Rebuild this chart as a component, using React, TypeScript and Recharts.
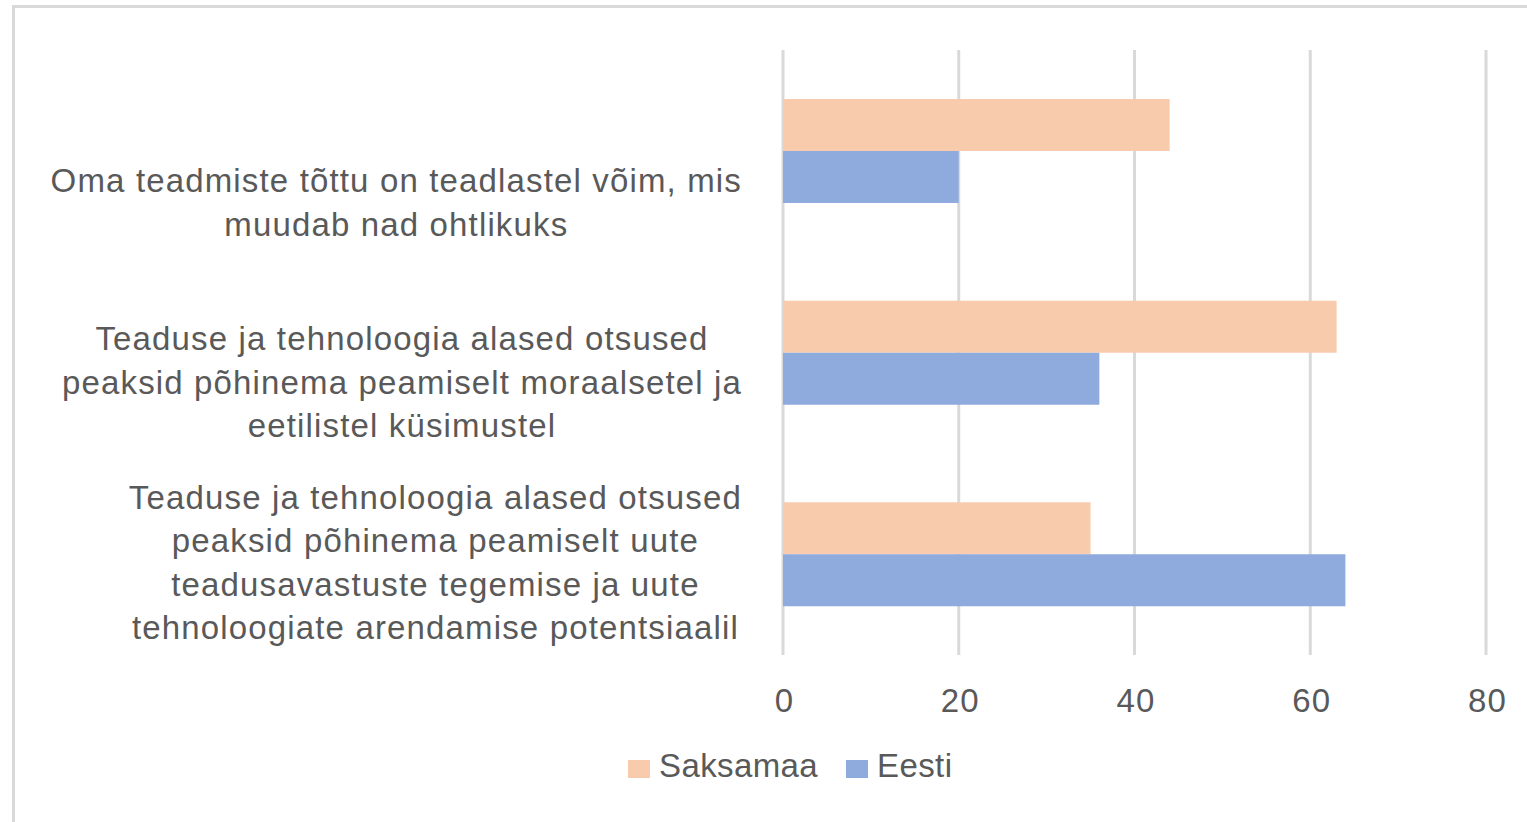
import { BarChart, Bar, XAxis, YAxis, CartesianGrid } from 'recharts'

const categoryLines: string[][] = [
  ['Oma teadmiste tõttu on teadlastel võim, mis', 'muudab nad ohtlikuks'],
  [
    'Teaduse ja tehnoloogia alased otsused',
    'peaksid põhinema peamiselt moraalsetel ja',
    'eetilistel küsimustel',
  ],
  [
    'Teaduse ja tehnoloogia alased otsused',
    'peaksid põhinema peamiselt uute',
    'teadusavastuste tegemise ja uute',
    'tehnoloogiate arendamise potentsiaalil',
  ],
]
const saksamaa = [44, 63, 35]
const eesti = [20, 36, 64]
const xTicks = [0, 20, 40, 60, 80]
const seriesNames = ['Saksamaa', 'Eesti']

const data = categoryLines.map((lines, i) => ({
  name: lines.join(' '),
  saksamaa: saksamaa[i],
  eesti: eesti[i],
}))

const W = 1527
const H = 822
const FONT = '"Liberation Sans", Arial, sans-serif'
const FONT_SIZE = 33
const LETTER = 1.15
const TEXT = '#595959'
const GRID = '#d9d9d9'
const PEACH = '#F8CBAD'
const BLUE = '#8FAADC'

const margin = { top: 50, right: 41, bottom: 107, left: 0 }
const X_AXIS_H = 60
const Y_AXIS_W = 783
const plotH = H - margin.top - margin.bottom - X_AXIS_H
const band = plotH / categoryLines.length
const LINE_H = 43.5

let ctx: CanvasRenderingContext2D | null = null
function textWidth(s: string): number {
  if (!ctx) ctx = document.createElement('canvas').getContext('2d')
  if (!ctx) return s.length * FONT_SIZE * 0.5
  ctx.font = `${FONT_SIZE}px ${FONT}`
  ;(ctx as any).letterSpacing = `${LETTER}px`
  return ctx.measureText(s).width
}

const textStyle = {
  fontFamily: FONT,
  fontSize: FONT_SIZE,
  letterSpacing: LETTER,
  fill: TEXT,
}

// wrapped category label: lines centred inside a right-aligned block
function CategoryTick(props: any) {
  const { x, y, index } = props
  const lines = categoryLines[index] ?? []
  const right = x - 41
  const w = Math.max(...lines.map(textWidth))
  const cx = right - w / 2
  const last = y + band / 2 - 16
  return (
    <g>
      {lines.map((l, i) => (
        <text
          key={i}
          x={cx}
          y={last - (lines.length - 1 - i) * LINE_H}
          textAnchor="middle"
          style={textStyle}
        >
          {l}
        </text>
      ))}
    </g>
  )
}

function ValueTick(props: any) {
  const { x, y, payload } = props
  return (
    <text x={x + 1.5} y={y + 57} textAnchor="middle" style={textStyle}>
      {payload.value}
    </text>
  )
}

function LegendItem({ color, label, left }: { color: string; label: string; left: number }) {
  return (
    <div style={{ position: 'absolute', left, top: 760, height: 18 }}>
      <div style={{ position: 'absolute', left: 0, top: 0, width: 22, height: 18, background: color }} />
      <svg style={{ position: 'absolute', left: 31, top: -30, overflow: 'visible' }} width={200} height={50}>
        <text x={0} y={47} style={{ ...textStyle, letterSpacing: 0.4 }}>
          {label}
        </text>
      </svg>
    </div>
  )
}

export default function App() {
  return (
    <div
      style={{
        position: 'absolute',
        left: 0,
        top: 0,
        width: W,
        height: H,
        overflow: 'hidden',
        background: '#fff',
      }}
    >
      <div
        style={{
          position: 'absolute',
          left: 12,
          top: 5,
          width: 1700,
          height: 1000,
          border: `3px solid ${GRID}`,
        }}
      />
      <div style={{ position: 'absolute', left: 0, top: 0 }}>
        <BarChart
          width={W}
          height={H}
          data={data}
          layout="vertical"
          margin={margin}
          barGap={0}
        >
          <CartesianGrid horizontal={false} stroke={GRID} strokeWidth={3} />
          <XAxis
            type="number"
            domain={[0, 80]}
            ticks={xTicks}
            height={X_AXIS_H}
            axisLine={false}
            tickLine={false}
            tickSize={0}
            tickMargin={0}
            tick={<ValueTick />}
            interval={0}
          />
          <YAxis
            type="category"
            dataKey="name"
            width={Y_AXIS_W}
            axisLine={false}
            tickLine={false}
            tickSize={0}
            tickMargin={0}
            tick={<CategoryTick />}
            interval={0}
          />
          <Bar dataKey="saksamaa" name={seriesNames[0]} fill={PEACH} barSize={52} isAnimationActive={false} />
          <Bar dataKey="eesti" name={seriesNames[1]} fill={BLUE} barSize={52} isAnimationActive={false} />
        </BarChart>
      </div>
      <LegendItem color={PEACH} label={seriesNames[0]} left={628} />
      <LegendItem color={BLUE} label={seriesNames[1]} left={846} />
    </div>
  )
}
